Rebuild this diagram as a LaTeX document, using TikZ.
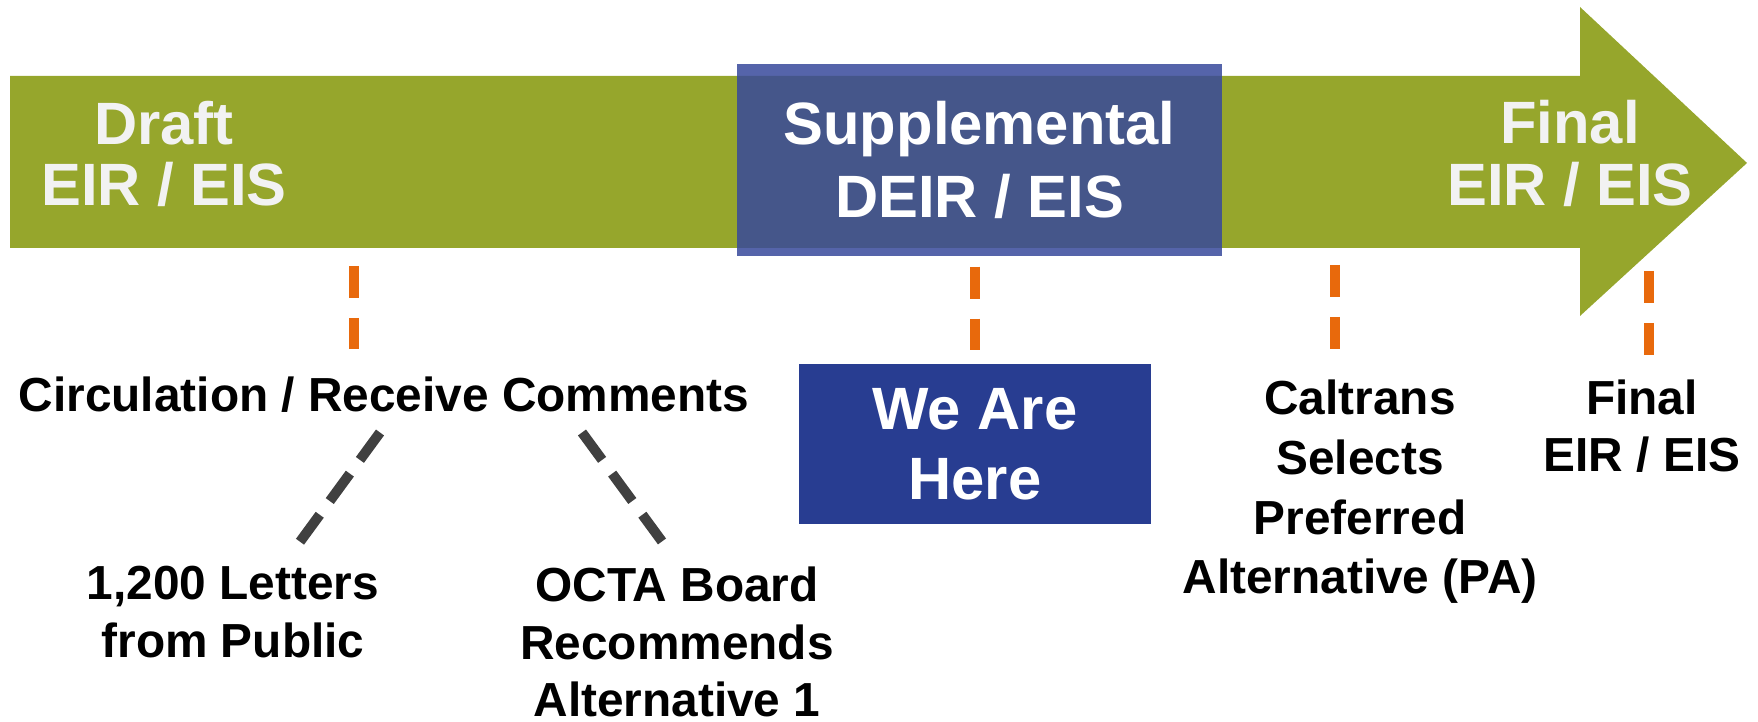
\documentclass[tikz,border=0pt]{standalone}
\usepackage{fontspec}
\setmainfont{Liberation Sans}
\usepackage{xcolor}
\usepackage{tikz}
\usetikzlibrary{positioning}

\definecolor{stagegreen}{RGB}{150,166,44}
\definecolor{phaseblue}{RGB}{55,73,155}
\definecolor{hereblue}{RGB}{40,61,145}
\definecolor{markorange}{RGB}{232,105,12}
\definecolor{branchgray}{RGB}{64,64,64}

\begin{document}
\begin{tikzpicture}[
    stage/.style={align=center, text=white!95!black, inner sep=0pt, font=\fontsize{17}{17.6}\selectfont\bfseries},
    note/.style={align=center, inner sep=0pt, font=\fontsize{13.6}{16.3}\selectfont\bfseries},
    phasebox/.style={rectangle, fill=phaseblue, fill opacity=0.85, text opacity=1, text=white, minimum width=4.85cm, minimum height=1.92cm, align=center, font=\fontsize{17}{21}\selectfont\bfseries},
    herebox/.style={rectangle, fill=hereblue, text=white, minimum width=3.52cm, minimum height=1.6cm, align=center, font=\fontsize{17}{19.9}\selectfont\bfseries},
    milestone/.style={draw=markorange, line width=1mm, dash pattern=on 3.2mm off 2mm},
    branch/.style={draw=branchgray, line width=1mm, dash pattern=on 3.4mm off 1.7mm}
]
\useasboundingbox (0,0) rectangle (17.58,7.22);

% Timeline arrow
\fill[stagegreen] (0.10,4.74) -- (15.80,4.74) -- (15.80,4.06) -- (17.47,5.59)
    -- (15.80,7.15) -- (15.80,6.46) -- (0.10,6.46) -- cycle;

% Stages on the arrow
\node[stage] (draft) at (1.64,5.68) {Draft\\EIR / EIS};
\node[stage] (final) at (15.70,5.685) {Final\\EIR / EIS};
\node[phasebox] (supp) at (9.795,5.62) {Supplemental\\DEIR / EIS};

% Labels below the arrow
\node[note] (circ) at (3.84,3.27) {Circulation / Receive Comments};
\node[note] (letters) at (2.33,1.10) {1,200 Letters\\from Public};
\node[note] (octa) at (6.77,0.80) {OCTA Board\\Recommends\\Alternative 1};
\node[herebox] (here) at (9.75,2.78) {We Are\\Here};
\node[note, font=\fontsize{13.6}{17}\selectfont\bfseries] (caltrans) at (13.60,2.30) {Caltrans\\Selects\\Preferred\\Alternative (PA)};
\node[note] (finalnote) at (16.42,2.955) {Final\\EIR / EIS};

% Milestone ticks
\coordinate (m1) at (3.54,4.74);
\coordinate (m3) at (13.35,4.74);
\coordinate (m4) at (16.49,4.69);
\draw[milestone, shorten <=0.18cm, shorten >=0.27cm] (m1) -- (m1 |- circ.north);
\draw[milestone, shorten <=0.10cm, shorten >=0.13cm] (supp.south -| here) -- (here.north);
\draw[milestone, shorten <=0.17cm, shorten >=0.22cm] (m3) -- (m3 |- caltrans.north);
\draw[milestone, shorten <=0.18cm, shorten >=0.23cm] (m4) -- (m4 |- finalnote.north);

% Comment branches
\draw[branch] ([xshift=-0.04cm,yshift=-0.19cm]circ.south) -- ([xshift=0.67cm,yshift=0.24cm]letters.north);
\draw[branch] ([xshift=1.98cm,yshift=-0.19cm]circ.south) -- ([xshift=-0.15cm,yshift=0.25cm]octa.north);

\end{tikzpicture}
\end{document}
